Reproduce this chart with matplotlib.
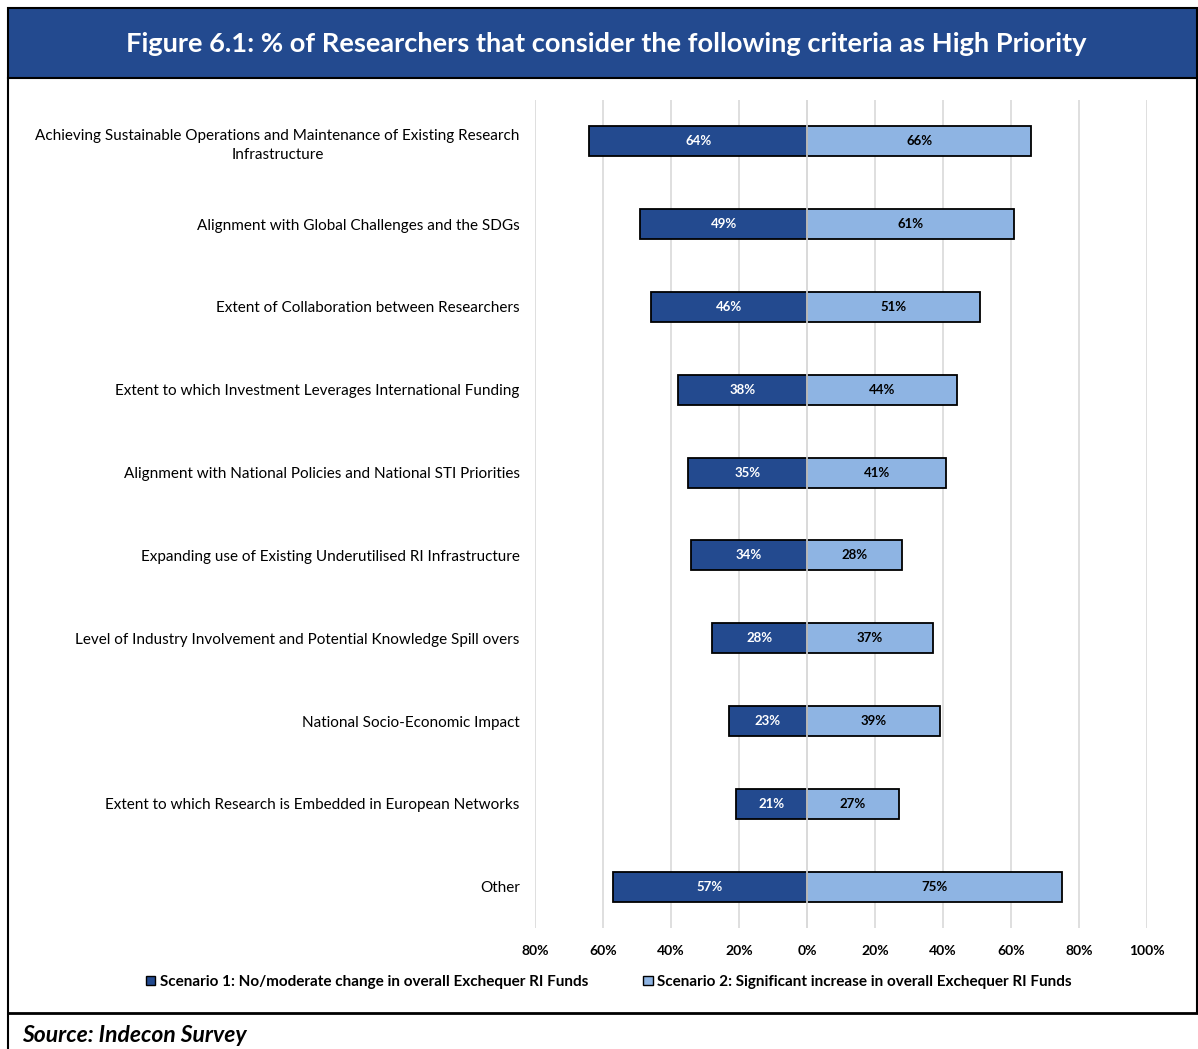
import matplotlib.pyplot as plt
from matplotlib.patches import Rectangle
from matplotlib.lines import Line2D

plt.rcParams['font.family'] = ['Lato', 'DejaVu Sans']

categories = [
    "Achieving Sustainable Operations and Maintenance of Existing Research\nInfrastructure",
    "Alignment with Global Challenges and the SDGs",
    "Extent of Collaboration between Researchers",
    "Extent to which Investment Leverages International Funding",
    "Alignment with National Policies and National STI Priorities",
    "Expanding use of Existing Underutilised RI Infrastructure",
    "Level of Industry Involvement and Potential Knowledge Spill overs",
    "National Socio-Economic Impact",
    "Extent to which Research is Embedded in European Networks",
    "Other",
]
scenario1 = [64, 49, 46, 38, 35, 34, 28, 23, 21, 57]
scenario2 = [66, 61, 51, 44, 41, 28, 37, 39, 27, 75]
ticks = [-80, -60, -40, -20, 0, 20, 40, 60, 80, 100]
tick_labels = ["80%", "60%", "40%", "20%", "0%", "20%", "40%", "60%", "80%", "100%"]
s1_name = "Scenario 1: No/moderate change in overall Exchequer RI Funds"
s2_name = "Scenario 2: Significant increase in overall Exchequer RI Funds"

dark = "#234A8F"
light = "#8EB4E3"

W, H = 1198, 1049
fig = plt.figure(figsize=(W / 100, H / 100), dpi=100)

def px(x, y):
    return x / W, 1 - y / H

# frame and title bar
x0, y0 = px(8, 8)
x1, y1 = px(1197, 78)
fig.patches.append(Rectangle((x0, y1), x1 - x0, y0 - y1, transform=fig.transFigure,
                             facecolor=dark, edgecolor="black", lw=1.5))
fig.text(px(606, 44)[0], px(606, 44)[1],
         "Figure 6.1: % of Researchers that consider the following criteria as High Priority",
         color="white", fontsize=19.6, fontweight="bold", ha="center", va="center")
fig.lines.append(Line2D([px(8, 0)[0], px(8, 0)[0]], [px(0, 78)[1], 0], transform=fig.transFigure,
                        color="black", lw=1.5))
fig.lines.append(Line2D([px(1197, 0)[0], px(1197, 0)[0]], [px(0, 78)[1], px(0, 1013)[1]],
                        transform=fig.transFigure, color="black", lw=1.5))
fig.lines.append(Line2D([px(8, 0)[0], 1], [px(0, 1013)[1]] * 2, transform=fig.transFigure,
                        color="black", lw=2))
fig.text(px(22, 1036)[0], px(22, 1036)[1], "Source: Indecon Survey", fontsize=16.5,
         fontweight="bold", fontstyle="italic", ha="left", va="center")

# chart area
ax_l, ax_t = px(535, 100)
ax_r, ax_b = px(1147, 928)
ax = fig.add_axes([ax_l, ax_b, ax_r - ax_l, ax_t - ax_b])

ypos = list(range(len(categories)))
ax.barh(ypos, [-v for v in scenario1], height=0.36, color=dark, edgecolor="black", lw=1.3,
        label=s1_name, zorder=3)
ax.barh(ypos, scenario2, height=0.36, color=light, edgecolor="black", lw=1.3,
        label=s2_name, zorder=3)
for i in ypos:
    ax.text(-scenario1[i] / 2, i, f"{scenario1[i]}%", color="white", fontsize=9.5,
            fontweight="bold", ha="center", va="center", zorder=4)
    ax.text(scenario2[i] / 2, i, f"{scenario2[i]}%", color="black", fontsize=9.5,
            fontweight="bold", ha="center", va="center", zorder=4)
ax.axvline(0, color="#d9d9d9", lw=1.2, zorder=3.5)

ax.set_xlim(-80, 100)
ax.set_ylim(len(categories) - 0.5, -0.5)
ax.set_xticks(ticks)
ax.set_xticklabels(tick_labels, fontsize=10, fontweight="bold")
ax.set_yticks(ypos)
ax.set_yticklabels(categories, fontsize=11, multialignment="center", linespacing=1.45)
ax.tick_params(length=0, axis="y", pad=11)
ax.tick_params(length=0, axis="x", pad=12)
ax.grid(axis="x", color="#d9d9d9", lw=1.2, zorder=0)
for s in ax.spines.values():
    s.set_visible(False)

leg = fig.legend(loc="center", bbox_to_anchor=px(609, 982), ncol=2, frameon=False,
                 fontsize=11, handlelength=0.6, handleheight=0.6, handletextpad=0.3,
                 columnspacing=3.6)
for t in leg.get_texts():
    t.set_fontweight("bold")
for h in leg.legend_handles:
    h.set_linewidth(1)

fig.savefig("out.png", dpi=100)
